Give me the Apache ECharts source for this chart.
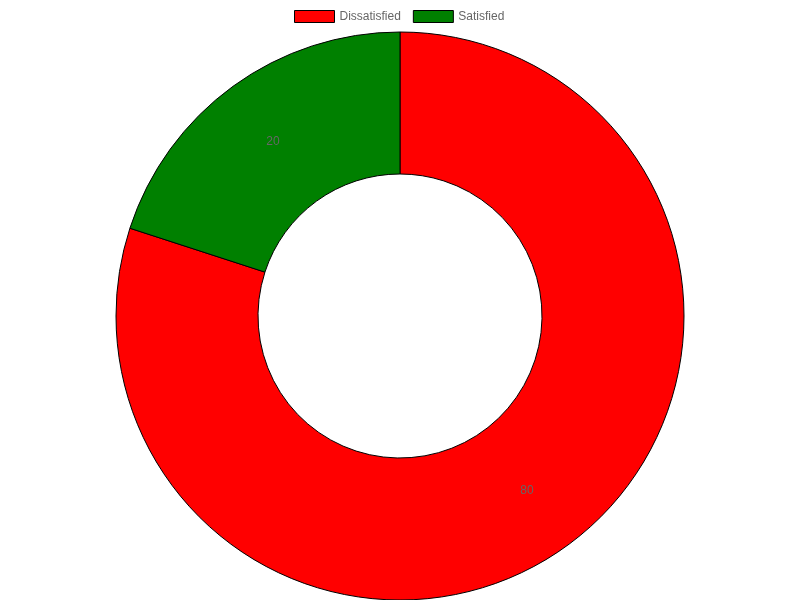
<!DOCTYPE html>
<html><head><meta charset="utf-8">
<script src="https://cdn.jsdelivr.net/npm/echarts@6/dist/echarts.min.js"></script>
<style>html,body{margin:0;padding:0;background:#fff}#c{width:800px;height:600px}</style>
</head><body><div id="c"></div>
<script>
const categories = ['Dissatisfied', 'Satisfied'];
const values = [80, 20];
const colors = ['#ff0000', '#008000'];

const chart = echarts.init(document.getElementById('c'), null, {renderer: 'canvas'});
chart.setOption({
  animation: false,
  legend: {
    top: 5,
    left: 289,
    itemWidth: 40,
    itemHeight: 12,
    itemGap: 12,
    icon: 'rect',
    textStyle: {color: '#666', fontSize: 12, fontFamily: 'Liberation Sans, Arial, sans-serif'},
    itemStyle: {borderColor: '#000', borderWidth: 1},
    data: categories
  },
  series: [{
    type: 'pie',
    center: [400, 316],
    radius: [142, 284],
    startAngle: 90,
    clockwise: true,
    avoidLabelOverlap: false,
    label: {
      show: true,
      position: 'inside',
      formatter: '{c}',
      color: '#666',
      fontSize: 12,
      fontFamily: 'Liberation Sans, Arial, sans-serif'
    },
    labelLine: {show: false},
    emphasis: {disabled: true},
    itemStyle: {borderColor: '#000', borderWidth: 1},
    data: categories.map((n, i) => ({name: n, value: values[i], itemStyle: {color: colors[i]}}))
  }]
});
</script></body></html>
